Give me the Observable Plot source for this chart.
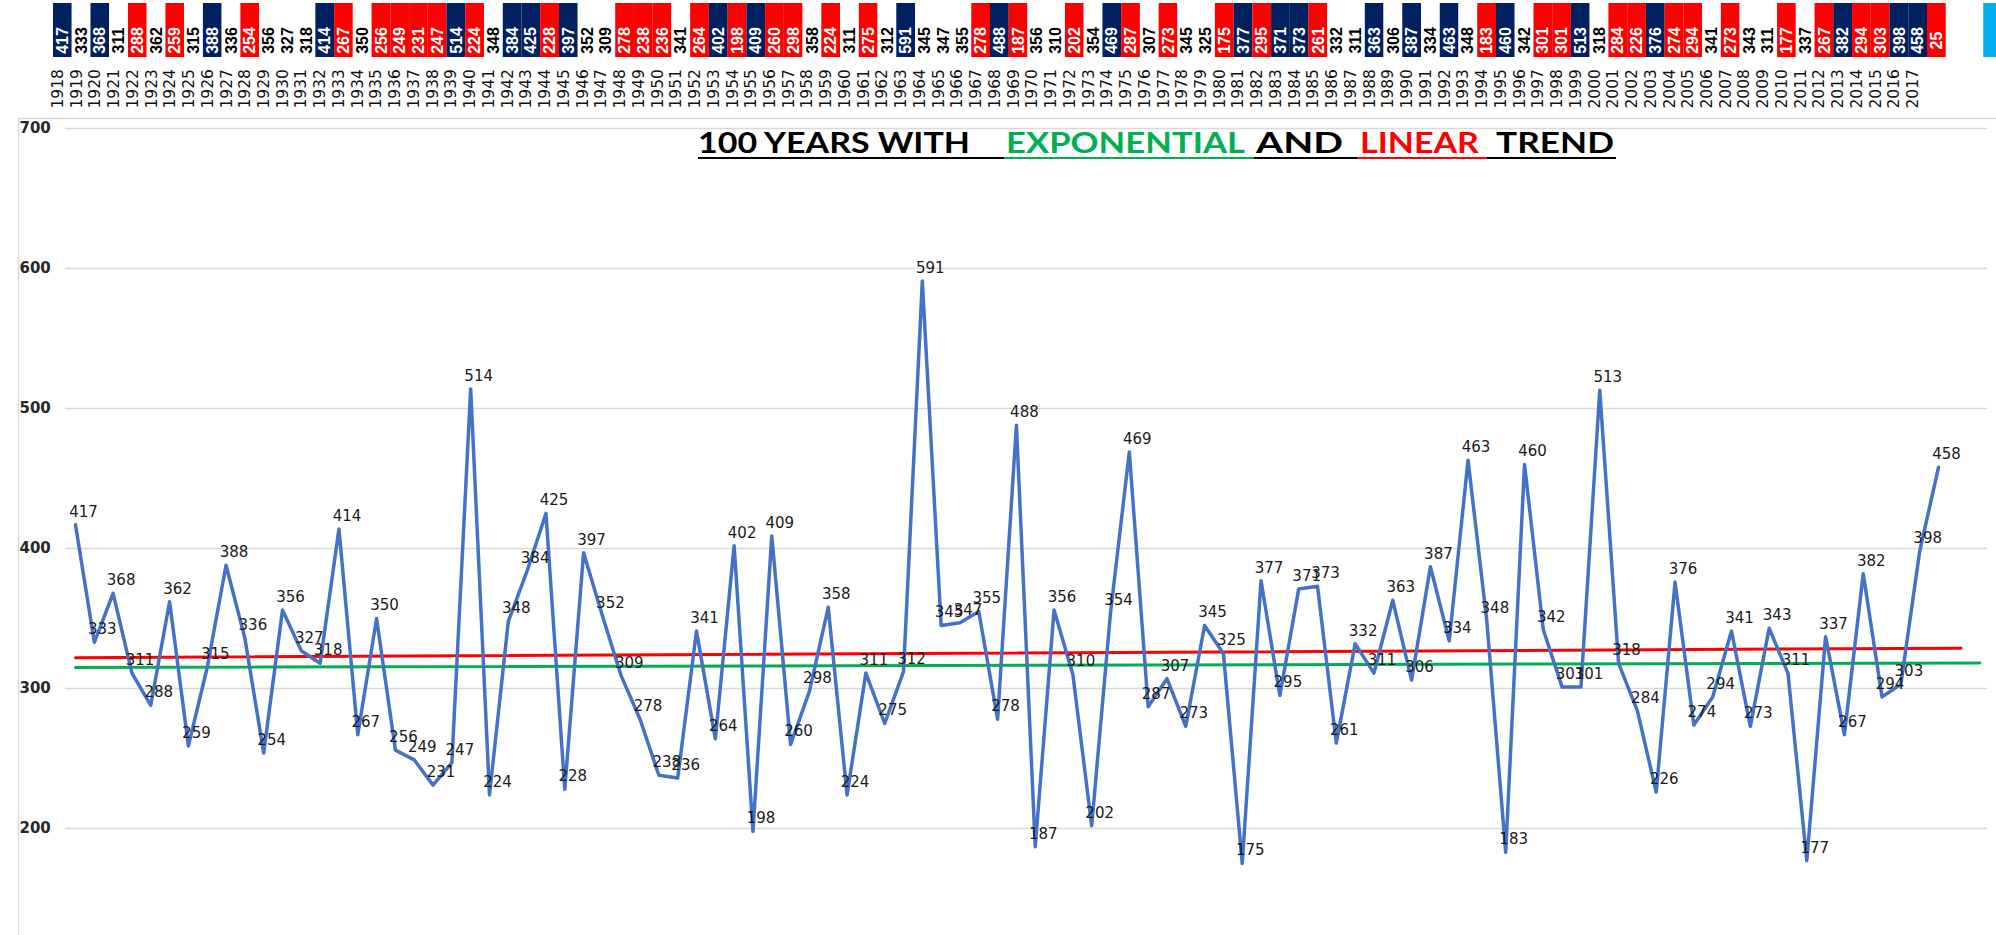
<!DOCTYPE html>
<html><head><meta charset="utf-8">
<script src="https://cdn.jsdelivr.net/npm/d3@7"></script>
<script src="https://cdn.jsdelivr.net/npm/@observablehq/plot@0.6"></script>
<style>
html,body{margin:0;padding:0;background:#fff;width:1996px;height:935px;overflow:hidden;}
#strip{position:absolute;left:0;top:0;}
#main{position:absolute;left:0;top:117px;}
</style></head><body>
<div id="strip"></div><div id="main"></div>
<script>
// ---- data ----
const years = d3.range(1918, 2018);
const values = [
 417,333,368,311,288,362,259,315,388,336,
 254,356,327,318,414,267,350,256,249,231,
 247,514,224,348,384,425,228,397,352,309,
 278,238,236,341,264,402,198,409,260,298,
 358,224,311,275,312,591,345,347,355,278,
 488,187,356,310,202,354,469,287,307,273,
 345,325,175,377,295,371,373,261,332,311,
 363,306,387,334,463,348,183,460,342,301,
 301,513,318,284,226,376,274,294,341,273,
 343,311,177,337,267,382,294,303,398,458
];
const partialValue = 25;           // cell after 2017, no year label
const yTicks = [200, 300, 400, 500, 600, 700];
const linearTrend = [[1918, 322], [2018.2, 328.8]];
const expTrend = [[1918, 315], [2019.2, 318.2]];
const titleParts = ["100 YEARS WITH", "EXPONENTIAL", "AND", "LINEAR", "TREND"];

// ---- styles ----
const NAVY = "#002060", RED = "#FF0000", BLUE = "#00B0F0", GREEN = "#00B050", LINE = "#4472C4", GRID = "#d9d9d9";
const status = v => v >= 363 ? "high" : v <= 303 ? "low" : "mid";

const series = values.map((v, i) => ({year: years[i], v}));
const cells = values.map((v, i) => ({i, v, year: years[i]})).concat([{i: 100, v: partialValue}]);
const stripCells = cells.concat([{i: 103, v: null, marker: true}]);
const fillOf = d => d.marker ? BLUE : status(d.v) === "high" ? NAVY : status(d.v) === "low" ? RED : "white";

const strip = Plot.plot({
  width: 1996, height: 117, marginTop: 3, marginBottom: 60, marginLeft: 0, marginRight: 0,
  x: {domain: [0, 104], range: [53, 53 + 104 * 18.74], axis: null},
  color: {type: "identity"},
  marks: [
    Plot.rect(stripCells, {x1: "i", x2: d => d.i + 1, fill: fillOf}),
    Plot.text(cells, {x: d => d.i + 0.5, text: d => String(d.v), rotate: -90, frameAnchor: "middle", dy: 10,
      fill: d => status(d.v) === "mid" ? "#000" : "#fff", fontFamily: "Liberation Sans", fontWeight: "bold", fontSize: 16}),
    Plot.text(cells.filter(d => d.year), {x: d => d.i + 0.5, text: d => String(d.year), rotate: -90, frameAnchor: "bottom",
      dy: 51, textAnchor: "start", fill: "#111", fontFamily: "DejaVu Sans", fontSize: 15.5})
  ]
});
document.getElementById("strip").appendChild(strip);

const main = Plot.plot({
  width: 1996, height: 818, marginTop: 1, marginLeft: 18, marginRight: 0, marginBottom: 0,
  x: {domain: [1918, 2017], range: [75, 1938], axis: null},
  y: {domain: [200, 700], range: [711, 11], label: null},
  marks: [
    Plot.frame({stroke: GRID, strokeWidth: 1.5, insetRight: -10, insetBottom: -10}),
    Plot.ruleY(yTicks, {x1: 1917.47, x2: 2019.6, stroke: GRID, strokeWidth: 1.5}),
    Plot.axisY(yTicks, {anchor: "left", tickSize: 0, tickPadding: 0, dx: 1, textAnchor: "start",
      fontFamily: "DejaVu Sans", fontWeight: "bold", fontSize: 15, fill: "#262626", label: null}),
    Plot.line(linearTrend, {x: d => d[0], y: d => d[1], stroke: RED, strokeWidth: 3}),
    Plot.line(expTrend, {x: d => d[0], y: d => d[1], stroke: GREEN, strokeWidth: 3}),
    Plot.line(series, {x: "year", y: "v", stroke: LINE, strokeWidth: 3.5}),
    Plot.text(series, {x: "year", y: "v", text: d => String(d.v), dx: 8, dy: -13,
      fontFamily: "DejaVu Sans", fontSize: 15, fill: "#1a1a1a"})
  ]
});
document.getElementById("main").appendChild(main);

// ---- title with coloured words and underline ----
const titleLayout = [
  {x: 698, w: 272, c: "#000"}, {x: 1006, w: 239, c: GREEN}, {x: 1256, w: 87, c: "#000"},
  {x: 1360, w: 119, c: RED}, {x: 1496, w: 118, c: "#000"}
];
const underline = [
  {x1: 698, x2: 1004, c: "#000"}, {x1: 1004, x2: 1254, c: GREEN}, {x1: 1254, x2: 1357, c: "#000"},
  {x1: 1357, x2: 1487, c: RED}, {x1: 1487, x2: 1616, c: "#000"}
];
const svg = d3.select(main);
const tg = svg.append("g").attr("text-anchor", "start");
titleParts.forEach((t, k) => {
  const L = titleLayout[k];
  tg.append("text").attr("x", L.x).attr("y", 36).attr("text-anchor", "start")
    .attr("textLength", L.w).attr("lengthAdjust", "spacingAndGlyphs")
    .attr("fill", L.c).attr("font-family", "Lato").attr("font-weight", "bold").attr("font-size", 28).text(t);
});
underline.forEach(u => {
  tg.append("line").attr("x1", u.x1).attr("x2", u.x2).attr("y1", 41).attr("y2", 41)
    .attr("stroke", u.c).attr("stroke-width", 2);
});
</script>
</body></html>
